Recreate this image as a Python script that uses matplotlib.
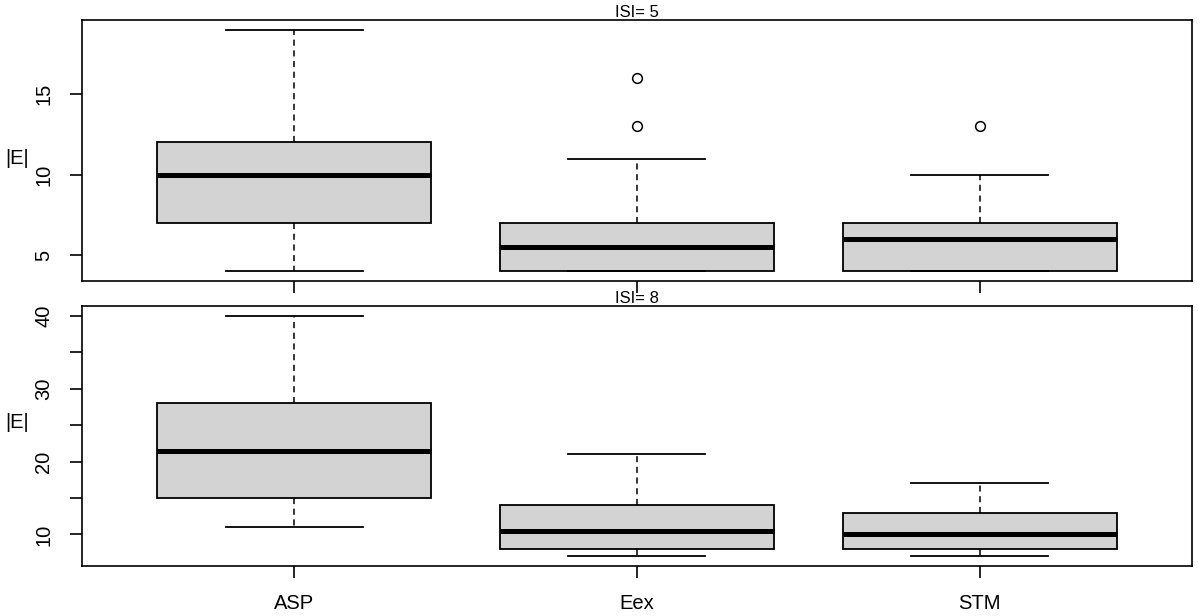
import matplotlib
matplotlib.use('Agg')
import matplotlib.pyplot as plt

plt.rcParams['font.family'] = ['Liberation Sans', 'DejaVu Sans']

groups = ['ASP', 'Eex', 'STM']

# ISI = 5
isi5_low = [4, 4, 4]
isi5_q1 = [7, 4, 4]
isi5_med = [10, 5.5, 6]
isi5_q3 = [12, 7, 7]
isi5_high = [19, 11, 10]
isi5_out = [[], [13, 16], [13]]

# ISI = 8
isi8_low = [11, 7, 7]
isi8_q1 = [15, 8, 8]
isi8_med = [21.5, 10.5, 10]
isi8_q3 = [28, 14, 13]
isi8_high = [40, 21, 17]
isi8_out = [[], [], []]


def make_stats(low, q1, med, q3, high, out):
    stats = []
    for i in range(len(groups)):
        stats.append({'label': groups[i], 'whislo': low[i], 'q1': q1[i], 'med': med[i],
                      'q3': q3[i], 'whishi': high[i], 'fliers': out[i]})
    return stats


def draw(ax, stats, title, yticks, ylabels):
    ax.bxp(stats, positions=[1, 2, 3], widths=0.8, capwidths=0.4, patch_artist=True,
           boxprops=dict(facecolor='#d3d3d3', edgecolor='black', linewidth=1.3),
           medianprops=dict(color='black', linewidth=3.6, solid_capstyle='butt'),
           whiskerprops=dict(color='black', linewidth=1.1, linestyle=(0, (4, 3))),
           capprops=dict(color='black', linewidth=1.3),
           flierprops=dict(marker='o', markerfacecolor='none', markeredgecolor='black',
                           markersize=7, markeredgewidth=1.1))
    ax.set_xlim(0.38, 3.62)
    ax.set_title(title, fontsize=12, pad=2)
    ax.set_yticks(yticks)
    ax.set_yticklabels(ylabels, rotation=90, va='center')
    ax.tick_params(axis='both', length=8.5, width=1.2, labelsize=14.5, pad=12)
    for s in ax.spines.values():
        s.set_linewidth(1.2)


fig = plt.figure(figsize=(12, 6.16), dpi=100)
ax1 = fig.add_axes([0.0683, 0.5438, 0.925, 0.4237])
ax2 = fig.add_axes([0.0683, 0.0812, 0.925, 0.4221])

draw(ax1, make_stats(isi5_low, isi5_q1, isi5_med, isi5_q3, isi5_high, isi5_out),
     'ISI= 5', [5, 10, 15], ['5', '10', '15'])
ax1.set_ylim(3.4, 19.6)
ax1.set_xticks([1, 2, 3])
ax1.set_xticklabels(['', '', ''])

draw(ax2, make_stats(isi8_low, isi8_q1, isi8_med, isi8_q3, isi8_high, isi8_out),
     'ISI= 8', [10, 15, 20, 25, 30, 35, 40], ['10', '', '20', '', '30', '', '40'])
ax2.set_ylim(5.68, 41.32)
ax2.set_xticks([1, 2, 3])
ax2.set_xticklabels(groups)

fig.text(5 / 1200, 1 - 158 / 616, '|E|', ha='left', va='center', fontsize=14.5)
fig.text(5 / 1200, 1 - 423 / 616, '|E|', ha='left', va='center', fontsize=14.5)

fig.savefig('out.png', dpi=100)
